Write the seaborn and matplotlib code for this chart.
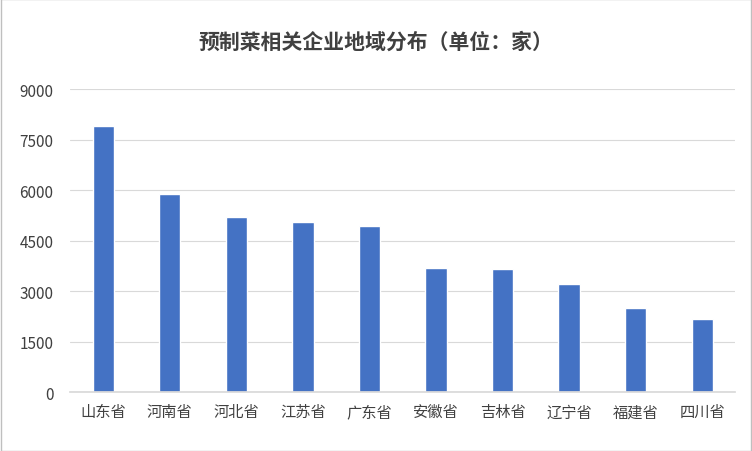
import matplotlib
matplotlib.use("Agg")
import matplotlib.pyplot as plt
import seaborn as sns
import pandas as pd

provinces = ["山东省", "河南省", "河北省", "江苏省", "广东省", "安徽省", "吉林省", "辽宁省", "福建省", "四川省"]
counts = [7920, 5900, 5200, 5070, 4930, 3680, 3650, 3210, 2490, 2170]
yticks = [0, 1500, 3000, 4500, 6000, 7500, 9000]

df = pd.DataFrame({"province": provinces, "count": counts})

sns.set_theme(style="white")
plt.rcParams['font.family'] = ['Noto Sans CJK SC', 'DejaVu Sans']

fig = plt.figure(figsize=(7.52, 4.52), dpi=100)
ax = fig.add_axes([0.093, 0.13, 0.885, 0.67])
sns.barplot(data=df, x="province", y="count", color="#4472C4", width=0.32, saturation=1, ax=ax)

ax.set_ylim(0, 9000)
ax.set_yticks(yticks)
ax.set_yticklabels([str(t) for t in yticks], fontsize=11, color="#404040")
ax.yaxis.grid(True, color="#D9D9D9", linewidth=0.8)
ax.set_axisbelow(True)
ax.tick_params(axis="x", labelsize=11, colors="#404040", length=0, pad=8)
ax.tick_params(axis="y", length=0, pad=12)
ax.set_xlabel("")
ax.set_ylabel("")
for s in ["top", "right", "left"]:
    ax.spines[s].set_visible(False)
ax.spines["bottom"].set_color("#D9D9D9")

fig.suptitle("预制菜相关企业地域分布（单位：家）", y=0.93, fontsize=15, fontweight="bold", color="#404040")

fig.patches.append(plt.Rectangle((0.001, 0.001), 0.998, 0.998, transform=fig.transFigure,
                                 fill=False, edgecolor="#BFBFBF", linewidth=1))

fig.savefig("out.png", dpi=100)
